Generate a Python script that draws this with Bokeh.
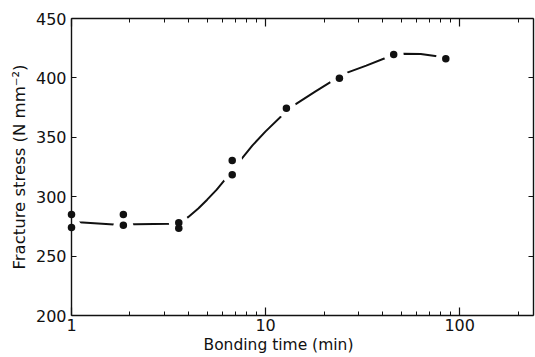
from bokeh.plotting import figure
from bokeh.models import LogAxis, LinearAxis, FixedTicker, Range1d, Title, CustomJSTickFormatter
from bokeh.embed import file_html
from bokeh.resources import INLINE

# measured data points (bonding time in min, fracture stress in N mm^-2)
times = [1, 1, 1.85, 1.85, 3.57, 3.57, 6.73, 6.73, 12.8, 24.0, 45.7, 84.8]
stress = [285, 274, 285, 276, 278, 273.5, 330.5, 318.5, 374.5, 399.7, 419.7, 416.1]

# hand-drawn fitted curve
fit_x = [1.0, 1.09, 1.65, 2.14, 3.3, 3.7, 4.0, 4.5, 5.0, 5.6, 6.22, 6.8, 7.15, 8.54, 10,
         12.8, 14.3, 18, 22.1, 25.9, 33, 42.4, 51.5, 63, 78, 85]
fit_y = [279, 278.5, 276.5, 276.8, 277.2, 278.5, 283, 290, 297.5, 306, 315, 322, 327.5,
         343, 355, 372, 378, 388.5, 397.5, 404, 410.3, 417.4, 420.3, 420.1, 418, 416]

x_ticks = [1, 10, 100]
x_minor = [m * 10 ** d for d in range(3) for m in range(2, 10) if m * 10 ** d < 240]
y_ticks = [200, 250, 300, 350, 400, 450]

FONT = "DejaVu Sans"
INK = "#111111"

p = figure(width=535, height=357, x_axis_type="log",
           x_range=Range1d(1, 240), y_range=Range1d(200, 450),
           output_backend="svg", toolbar_location=None,
           min_border_left=71, min_border_top=18, min_border_right=2, min_border_bottom=42)
p.outline_line_color = None
p.xgrid.visible = False
p.ygrid.visible = False
p.background_fill_color = "white"
p.border_fill_color = "white"

def style(ax, show_labels):
    ax.axis_line_color = INK
    ax.axis_line_width = 1.4
    ax.major_tick_line_color = INK
    ax.minor_tick_line_color = INK
    ax.major_tick_line_width = 1.2
    ax.minor_tick_line_width = 1.0
    ax.major_tick_out = 0
    ax.minor_tick_out = 0
    ax.major_label_text_font = FONT
    ax.major_label_text_color = INK
    ax.axis_label_text_font = FONT
    ax.axis_label_text_font_style = "normal"
    ax.axis_label_text_color = INK
    if not show_labels:
        ax.formatter = CustomJSTickFormatter(code="return ''")
        ax.major_label_text_font_size = "1px"
        ax.major_label_standoff = 0

bx = p.xaxis[0]
bx.ticker = FixedTicker(ticks=x_ticks, minor_ticks=x_minor)
bx.formatter = CustomJSTickFormatter(code="return String(tick)")
style(bx, True)
bx.major_tick_in = 8
bx.minor_tick_in = 4
bx.major_label_text_font_size = "16px"
bx.major_label_standoff = 3

ly = p.yaxis[0]
ly.ticker = FixedTicker(ticks=y_ticks, minor_ticks=[])
style(ly, True)
ly.major_tick_in = 5
ly.minor_tick_in = 0
ly.major_label_text_font_size = "16px"
ly.major_label_standoff = 5
ly.axis_label = "Fracture stress (N mm\u207b\u00b2)"
ly.axis_label_text_font_size = "16.5px"
ly.axis_label_standoff = 4

top = LogAxis(ticker=FixedTicker(ticks=x_ticks, minor_ticks=x_minor))
style(top, False)
top.major_tick_in = 8
top.minor_tick_in = 4
p.add_layout(top, "above")

right = LinearAxis(ticker=FixedTicker(ticks=y_ticks, minor_ticks=[]))
style(right, False)
right.major_tick_in = 5
right.minor_tick_in = 0
p.add_layout(right, "right")

xt_title = Title(text="Bonding time (min)", align="left", offset=132,
                 text_font=FONT, text_font_size="15.5px", text_font_style="normal",
                 text_color=INK, standoff=0)
p.add_layout(xt_title, "below")

p.line(fit_x, fit_y, line_color=INK, line_width=2)
p.scatter(times, stress, size=20, marker="circle", fill_color="white", line_color=None)
p.scatter(times, stress, size=7.5, marker="circle", fill_color=INK, line_color=None,
          level="overlay")

open("out.html", "w").write(file_html(p, INLINE))
